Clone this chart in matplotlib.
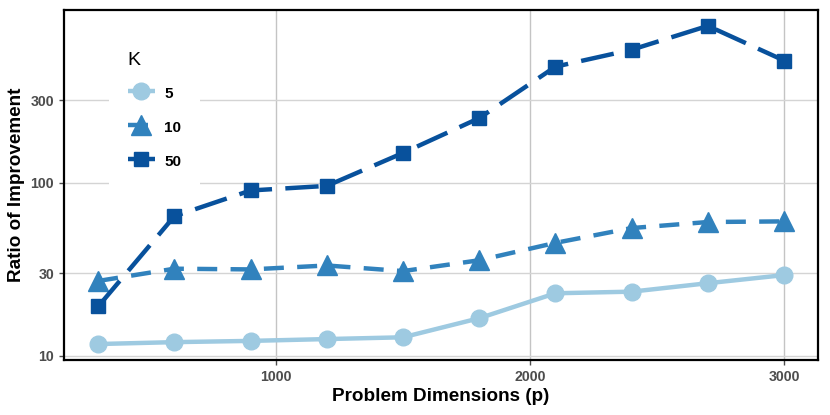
import matplotlib.pyplot as plt
from matplotlib.ticker import FixedLocator, NullLocator

# === Data ===
dims = [300, 600, 900, 1200, 1500, 1800, 2100, 2400, 2700, 3000]
k5 = [11.7, 12.0, 12.2, 12.5, 12.8, 16.5, 23.0, 23.5, 26.3, 29.3]
k10 = [27.1, 31.9, 31.6, 33.3, 30.9, 35.7, 45.0, 54.8, 59.4, 59.9]
k50 = [19.3, 64.2, 90.4, 96.1, 149, 237, 470, 589, 809, 510]
k_labels = ['5', '10', '50']
y_ticks = [10, 30, 100, 300]
x_ticks = [1000, 2000, 3000]

plt.rcParams['font.family'] = ['Liberation Sans', 'DejaVu Sans']

fig = plt.figure(figsize=(8.3, 4.15), dpi=100)
ax = fig.add_axes([0.077, 0.133, 0.909, 0.843])

ax.plot(dims, k5, color='#9ecae1', lw=3.2, marker='o', ms=12,
        label=k_labels[0], solid_capstyle='butt', zorder=3)
ax.plot(dims, k10, color='#3182bd', lw=3.2, marker='^', ms=14,
        dashes=(4.5, 3), label=k_labels[1], zorder=3)
ax.plot(dims, k50, color='#08519c', lw=3.2, marker='s', ms=10,
        dashes=(7.5, 3), label=k_labels[2], zorder=3)

ax.set_yscale('log')
ax.set_xlim(165, 3135)
ax.set_ylim(10 ** 0.977, 10 ** 3.0)
ax.yaxis.set_major_locator(FixedLocator(y_ticks))
ax.yaxis.set_minor_locator(NullLocator())
ax.set_yticklabels([str(t) for t in y_ticks])
ax.set_xticks(x_ticks)

ax.grid(True, which='major', axis='y', color='#d4d4d4', lw=1.0, zorder=0)
ax.grid(True, which='major', axis='x', color='#c4c4c4', lw=1.0, zorder=0)
ax.set_axisbelow(True)

for s in ax.spines.values():
    s.set_linewidth(1.6)
    s.set_color('black')

ax.tick_params(axis='both', colors='#4d4d4d', length=3.5, width=1,
               labelsize=10.2, labelcolor='#4d4d4d')
for lbl in ax.get_xticklabels() + ax.get_yticklabels():
    lbl.set_fontweight('bold')

ax.set_xlabel('Problem Dimensions (p)', fontsize=13.6, fontweight='bold', labelpad=3)
ax.set_ylabel('Ratio of Improvement', fontsize=13.6, fontweight='bold', labelpad=4)

leg = ax.legend(title='K', loc='upper left', bbox_to_anchor=(0.05, 0.955),
                fontsize=11, title_fontsize=14, alignment='left',
                frameon=True, facecolor='white', edgecolor='none', framealpha=1,
                fancybox=False, handlelength=1.8, handleheight=1.6,
                labelspacing=0.95, handletextpad=0.6, borderpad=1.2)
for t in leg.get_texts():
    t.set_fontweight('bold')

plt.savefig('out.png', dpi=100)
